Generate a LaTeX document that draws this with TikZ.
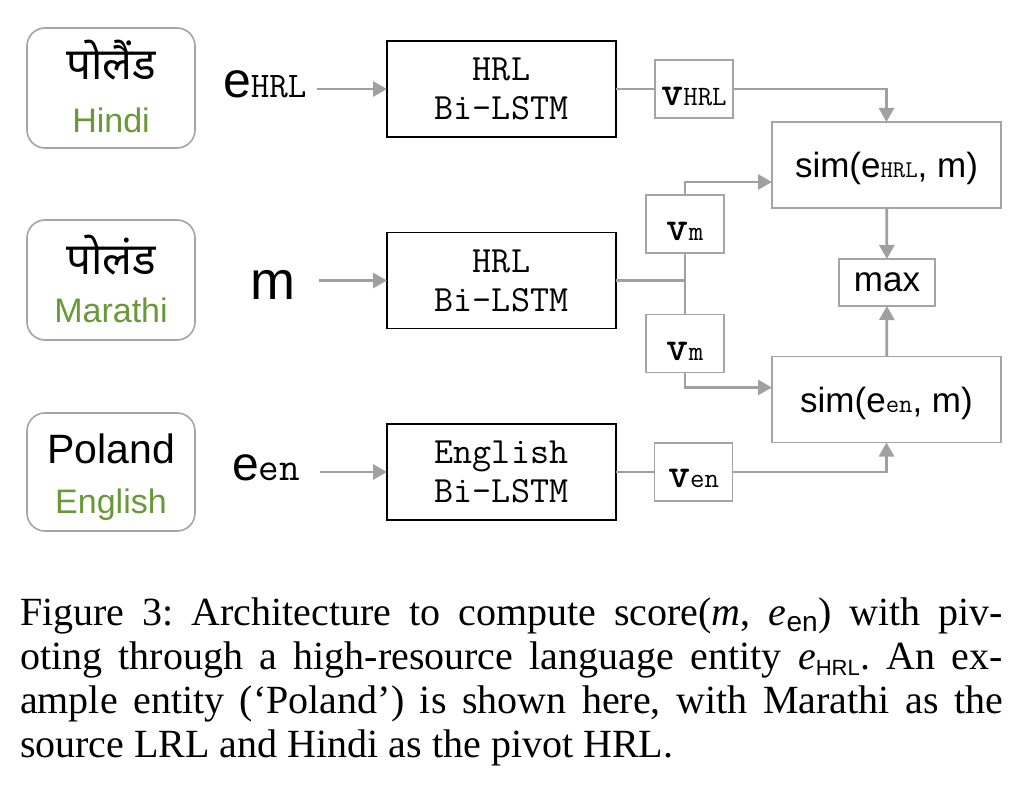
\documentclass[tikz,border=0pt]{standalone}
\usepackage{fontspec}
\setmainfont{Liberation Serif}
\setsansfont{Liberation Sans}
\newfontfamily\devafont[Script=Devanagari]{Noto Sans}
\usetikzlibrary{positioning,arrows.meta}
\definecolor{langgreen}{RGB}{104,152,56}
\definecolor{boxgray}{RGB}{165,165,165}
\definecolor{linkgray}{RGB}{160,160,160}
\newcommand{\fs}[1]{\fontsize{#1}{#1}\selectfont}
\newcommand{\vecname}[1]{{\fs{42}\ttfamily\bfseries v}{\fs{28}\ttfamily #1}}

\begin{document}
\begin{tikzpicture}[
		x=1pt, y=-1pt
		,every node/.append style={inner sep=0pt, outer sep=0pt}
		,langbox/.style={draw=boxgray, line width=1.6pt, rounded corners=18pt, minimum width=168pt, minimum height=120pt}
		,word/.style={anchor=base, font=\fs{41}\sffamily}
		,langname/.style={anchor=base, text=langgreen, font=\fs{34}\sffamily}
		,input/.style={anchor=base west, font=\sffamily}
		,lstm/.style={draw, line width=1.4pt, minimum width=229pt, minimum height=96pt, align=center, font=\fontsize{37}{39}\selectfont\ttfamily}
		,vecbox/.style={draw=boxgray, line width=1.6pt, minimum width=78pt, minimum height=58pt, text height=33pt, text depth=0pt}
		,simbox/.style={draw=boxgray, line width=1.6pt, minimum width=229pt, minimum height=86pt, text height=26pt, text depth=0pt, font=\fs{35}\sffamily}
		,maxbox/.style={draw=boxgray, line width=1.6pt, minimum width=96pt, minimum height=47pt, font=\fs{35}\sffamily}
		,link/.style={draw=linkgray, line width=2.8pt}
		,feed/.style={link, -{Triangle[length=14pt, width=15pt]}}
	]
	\useasboundingbox (0,0) rectangle (1028,786);

	% entity in three languages
	\node [langbox] (hindi) at (111,88) {};
	\node [word, font=\fs{44}\devafont] (hindiw) at (111,80) {पोलैंड};
	\node [langname] (hindin) at (111,133) {Hindi};
	\node [langbox] (marathi) at (111,280) {};
	\node [word, font=\fs{44}\devafont] (marathiw) at (111,275) {पोलंड};
	\node [langname] (marathin) at (111,323) {Marathi};
	\node [langbox, minimum height=118pt] (english) at (111,472) {};
	\node [word] (englishw) at (111,463) {Poland};
	\node [langname] (englishn) at (111,513) {English};

	% inputs
	\node [input] (ehrl) at (223,98) {{\fs{50}e}{\fs{36}\ttfamily HRL}};
	\node [input] (m) at (250,300) {\fs{54}m};
	\node [input] (een) at (232,480) {{\fs{48}e}{\fs{40}\ttfamily en}};

	% encoders
	\node [lstm] (lstmhrl) at (501.5,89) {HRL\\Bi-LSTM};
	\node [lstm] (lstmm) at (501.5,280.5) {HRL\\Bi-LSTM};
	\node [lstm] (lstmen) at (501.5,472) {English\\Bi-LSTM};

	% vectors
	\node [vecbox] (vhrl) at (694,89) {\vecname{HRL}};
	\node [vecbox] (vmup) at (685,224) {\vecname{m}};
	\node [vecbox] (vmdown) at (685,343.5) {\vecname{m}};
	\node [vecbox, text height=31pt] (ven) at (693.5,472) {\vecname{en}};

	% scoring
	\node [simbox] (simhrl) at (886.5,165) {sim(e{\fs{24}\ttfamily HRL}, m)};
	\node [maxbox] (maxn) at (887,282.5) {max};
	\node [simbox] (simen) at (886.5,399.5) {sim(e{\fs{26}\ttfamily en}, m)};

	\draw [feed, shorten <=11pt] (ehrl.east |- lstmhrl.west) -- (lstmhrl.west);
	\draw [feed, shorten <=24pt] (m.east |- lstmm.west) -- (lstmm.west);
	\draw [feed, shorten <=20pt] (een.east |- lstmen.west) -- (lstmen.west);

	\draw [link] (lstmhrl) -- (vhrl);
	\draw [feed] (vhrl) -| (simhrl);
	\draw [link] (lstmm.east) -- (vmup.south |- lstmm.east);
	\draw [link] (vmup) -- (vmdown);
	\draw [feed] (vmup.north) |- ([yshift=-17pt]simhrl.west);
	\draw [feed] (vmdown.south) |- ([yshift=12pt]simen.west);
	\draw [link] (lstmen) -- (ven);
	\draw [feed] (ven) -| (simen);
	\draw [feed] (simhrl) -- (maxn);
	\draw [feed] (simen) -- (maxn);

	\node [anchor=base west, text width=983pt, align=justify, font=\fontsize{40}{44}\selectfont\rmfamily\frenchspacing] (caption) at (20,625)
		{Figure 3: Architecture to compute score({\itshape m}, {\itshape e}\textsubscript{\sffamily en}) with piv-\linebreak
		oting through a high-resource language entity {\itshape e}\textsubscript{\fs{22}\sffamily HRL}. An ex-\linebreak
		ample entity (‘Poland’) is shown here, with Marathi as the\linebreak
		source LRL and Hindi as the pivot HRL.};
\end{tikzpicture}
\end{document}
